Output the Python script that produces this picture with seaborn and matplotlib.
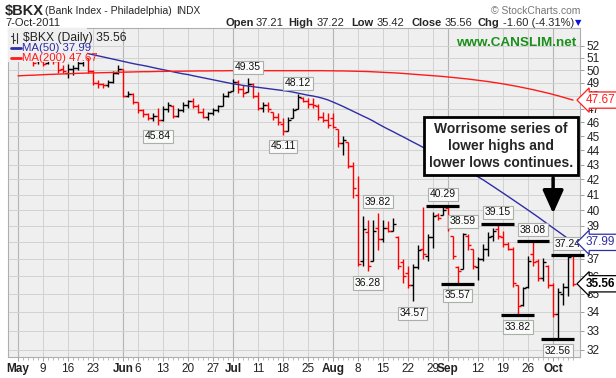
import numpy as np
import pandas as pd
import matplotlib
matplotlib.use('Agg')
import matplotlib.pyplot as plt
import seaborn as sns
from matplotlib.ticker import FixedLocator, NullLocator, FuncFormatter
from matplotlib.patches import Rectangle
from matplotlib.lines import Line2D

sns.set_theme(style='white')
plt.rcParams['font.family'] = ['Liberation Sans', 'DejaVu Sans']

#%% data: $BKX daily bars, 2-May-2011 .. 7-Oct-2011
dates = pd.bdate_range('2011-05-02', '2011-10-07')
dates = dates.drop(pd.to_datetime(['2011-05-30', '2011-07-04', '2011-09-05']))

opens = [52.10, 52.20, 51.70, 51.10, 50.70, 51.20, 50.60, 51.30, 50.70, 50.10,
         49.80, 50.10, 50.20, 50.60, 51.00, 49.90, 49.00, 48.90, 48.80, 49.10,
         49.80, 50.10, 48.00, 48.10, 47.50, 46.90, 46.60, 46.30, 46.50, 46.20,
         47.00, 47.20, 46.50, 46.90, 47.30, 47.60, 47.20, 46.80, 46.40, 46.70,
         46.90, 47.20, 48.00, 48.40, 49.10, 48.50, 48.30, 48.90, 48.00, 47.10,
         47.30, 46.80, 46.40, 45.90, 45.40, 46.30, 47.00, 47.80, 47.60, 47.40,
         47.20, 46.40, 46.20, 46.30, 45.50, 44.50, 44.60, 42.90, 41.00, 36.90,
         38.60, 36.90, 38.90, 38.20, 38.90, 38.70, 38.30, 36.80, 36.20, 35.50,
         36.50, 37.60, 37.20, 38.30, 39.70, 39.70, 40.10, 38.40, 36.50, 36.40,
         38.40, 37.60, 36.50, 37.00, 37.60, 38.40, 38.80, 38.30, 37.90, 37.60,
         35.50, 34.40, 35.40, 37.30, 36.90, 35.90, 36.60, 35.50, 33.90, 35.00,
         35.40, 37.21]
highs = [52.60, 52.40, 51.90, 51.60, 51.50, 51.40, 51.60, 51.50, 50.90, 50.40,
         50.50, 50.40, 50.70, 51.20, 51.00, 50.00, 49.20, 49.00, 49.20, 49.90,
         50.40, 50.10, 48.40, 48.20, 47.55, 47.00, 46.70, 46.70, 47.10, 47.20,
         47.50, 47.30, 47.10, 47.55, 47.70, 47.80, 47.40, 47.10, 46.80, 47.10,
         47.30, 48.20, 48.40, 49.30, 49.20, 48.80, 49.35, 49.00, 48.30, 47.50,
         47.50, 46.80, 46.70, 46.30, 46.40, 47.10, 48.12, 47.90, 47.80, 47.80,
         47.40, 46.80, 46.70, 46.70, 45.50, 45.00, 44.60, 43.20, 42.20, 39.60,
         39.40, 39.40, 39.82, 39.40, 39.30, 39.50, 38.40, 37.00, 36.60, 36.70,
         37.80, 40.20, 38.50, 39.90, 39.80, 40.29, 40.20, 38.40, 36.60, 38.59,
         38.50, 37.60, 37.10, 37.90, 38.60, 38.90, 39.15, 38.70, 38.00, 37.70,
         35.50, 35.40, 37.20, 38.08, 37.00, 37.06, 36.66, 35.60, 35.30, 35.60,
         37.24, 37.22]
lows = [51.80, 51.50, 51.00, 50.35, 50.50, 50.35, 50.50, 50.50, 49.80, 49.80,
        49.40, 49.60, 50.00, 50.30, 49.80, 48.80, 48.60, 48.60, 48.70, 49.00,
        49.70, 47.90, 47.90, 47.40, 46.70, 46.40, 46.20, 46.10, 45.84, 46.10,
        46.80, 46.30, 46.40, 46.80, 47.10, 47.10, 46.70, 46.30, 46.20, 46.55,
        46.80, 47.20, 47.90, 48.40, 48.20, 47.90, 48.30, 47.80, 46.90, 46.80,
        46.80, 46.20, 45.80, 45.11, 45.40, 46.30, 47.00, 47.50, 47.10, 47.10,
        46.20, 46.00, 45.60, 45.60, 44.20, 43.70, 42.80, 40.80, 36.60, 36.60,
        36.28, 36.90, 37.50, 38.00, 38.60, 38.70, 36.40, 35.60, 35.30, 34.57,
        36.40, 37.00, 36.90, 37.65, 39.40, 39.66, 38.70, 37.00, 35.57, 36.40,
        37.50, 36.40, 35.80, 36.90, 37.20, 38.10, 38.20, 37.70, 37.50, 35.40,
        33.82, 34.30, 35.30, 36.60, 35.70, 35.70, 35.35, 33.70, 32.56, 34.40,
        34.90, 35.42]
closes = [52.30, 51.70, 51.20, 50.60, 51.30, 50.50, 51.40, 50.70, 50.00, 49.90,
          50.10, 50.20, 50.60, 51.00, 49.90, 49.00, 48.90, 48.80, 49.10, 49.80,
          50.10, 48.00, 48.10, 47.50, 46.90, 46.60, 46.30, 46.50, 46.20, 47.00,
          47.30, 46.50, 46.90, 47.30, 47.60, 47.20, 46.80, 46.40, 46.70, 46.90,
          47.20, 48.00, 48.30, 49.10, 48.50, 48.20, 48.90, 48.00, 47.10, 47.30,
          47.00, 46.40, 46.00, 45.40, 46.20, 46.90, 47.90, 47.60, 47.40, 47.30,
          46.40, 46.20, 45.80, 45.70, 44.50, 44.70, 42.90, 41.40, 36.70, 38.80,
          36.60, 38.70, 38.20, 38.90, 38.70, 39.10, 36.60, 36.00, 35.50, 36.50,
          37.50, 37.30, 38.30, 39.60, 39.50, 40.00, 38.90, 37.20, 36.30, 38.50,
          37.80, 36.60, 37.00, 37.60, 38.30, 38.70, 38.40, 37.90, 37.60, 35.60,
          34.30, 35.30, 36.90, 36.80, 35.90, 36.80, 35.50, 33.90, 35.10, 35.40,
          37.10, 35.56]

ma50 = [52.45, 52.38, 52.30, 52.22, 52.14, 52.06, 51.98, 51.90, 51.82, 51.74,
        51.66, 51.58, 51.50, 51.42, 51.34, 51.25, 51.16, 51.07, 50.98, 50.89,
        50.80, 50.71, 50.62, 50.53, 50.45, 50.38, 50.30, 50.21, 50.12, 50.04,
        49.96, 49.87, 49.79, 49.71, 49.65, 49.56, 49.48, 49.40, 49.32, 49.24,
        49.16, 49.08, 49.00, 48.92, 48.87, 48.80, 48.75, 48.70, 48.65, 48.60,
        48.55, 48.50, 48.45, 48.40, 48.35, 48.28, 48.20, 48.12, 48.04, 47.98,
        47.90, 47.80, 47.68, 47.52, 47.36, 47.19, 47.01, 46.83, 46.65, 46.47,
        46.30, 46.11, 45.90, 45.70, 45.51, 45.33, 45.14, 44.96, 44.77, 44.58,
        44.40, 44.21, 44.03, 43.84, 43.66, 43.47, 43.29, 43.10, 42.92, 42.73,
        42.55, 42.36, 42.18, 41.98, 41.76, 41.54, 41.32, 41.10, 40.88, 40.66,
        40.44, 40.22, 40.00, 39.78, 39.56, 39.33, 39.10, 38.88, 38.66, 38.44,
        38.22, 37.99]
ma200 = [49.55, 49.57, 49.59, 49.60, 49.62, 49.64, 49.66, 49.67, 49.69, 49.70,
         49.72, 49.73, 49.75, 49.76, 49.77, 49.78, 49.79, 49.80, 49.81, 49.82,
         49.83, 49.84, 49.85, 49.86, 49.87, 49.88, 49.88, 49.89, 49.90, 49.90,
         49.91, 49.91, 49.92, 49.92, 49.93, 49.93, 49.94, 49.94, 49.94, 49.95,
         49.95, 49.95, 49.96, 49.96, 49.96, 49.96, 49.96, 49.96, 49.96, 49.96,
         49.96, 49.96, 49.96, 49.96, 49.96, 49.96, 49.96, 49.96, 49.96, 49.96,
         49.96, 49.96, 49.95, 49.95, 49.94, 49.94, 49.93, 49.92, 49.91, 49.90,
         49.89, 49.87, 49.85, 49.83, 49.81, 49.79, 49.77, 49.74, 49.71, 49.68,
         49.65, 49.62, 49.59, 49.56, 49.53, 49.50, 49.46, 49.42, 49.38, 49.34,
         49.30, 49.25, 49.20, 49.15, 49.10, 49.04, 48.98, 48.92, 48.85, 48.78,
         48.71, 48.63, 48.55, 48.47, 48.38, 48.29, 48.20, 48.10, 48.00, 47.89,
         47.78, 47.67]

# labelled pivots (bar index) and pivots that get a black level line
high_pivots = [46, 56, 72, 85, 89, 96, 103, 110]
low_pivots = [28, 53, 70, 79, 88, 100, 108]
high_lines = [85, 96, 103, 110]
low_lines = [88, 100, 108]

#%% build frames
df = pd.DataFrame({'open': opens, 'high': highs, 'low': lows, 'close': closes},
                  index=dates)
x = np.arange(len(df))
df['x'] = x
prev = df['close'].shift(1).fillna(df['close'])
df['color'] = np.where(df['close'] >= prev, 'black', '#ff0000')

df_ma = pd.DataFrame({'x': x, 'MA(50)': ma50, 'MA(200)': ma200})
df_ma = df_ma.melt(id_vars='x', var_name='series', value_name='value')

BG = '#efefef'
GRID = '#d2d2d2'
BLUE = '#2e2ea6'
RED = '#ff1a1a'

fig = plt.figure(figsize=(6.16, 3.78), dpi=100)
fig.patch.set_facecolor('white')
ax = fig.add_axes([8/616, 1-357/378, 572/616, 329/378])
ax.set_facecolor(BG)
ax.set_yscale('log')

# price bars
ax.vlines(df.x, df.low, df.high, colors=df.color, lw=1.0, zorder=2)
ax.hlines(df.open, df.x - 0.55, df.x, colors=df.color, lw=1.0, zorder=2)
ax.hlines(df.close, df.x, df.x + 0.55, colors=df.color, lw=1.0, zorder=2)

# moving averages
sns.lineplot(data=df_ma, x='x', y='value', hue='series',
             palette={'MA(50)': BLUE, 'MA(200)': RED},
             legend=False, lw=1.0, ax=ax, zorder=3)

#%% axes
ax.set_xlim(-2, 112.4)
ax.set_ylim(31.64, 53.48)
ax.set_xlabel('')
ax.set_ylabel('')

yt = list(range(32, 53))
ax.yaxis.set_major_locator(FixedLocator(yt))
ax.yaxis.set_minor_locator(NullLocator())
ax.yaxis.set_major_formatter(FuncFormatter(lambda v, p: '{:.0f}'.format(v)))
ax.yaxis.tick_right()
ax.tick_params(axis='y', which='major', length=3, width=0.6, color='#909090',
               pad=2, labelsize=8.5, labelcolor='#222222', right=True, left=False)

# x ticks: month starts and mondays
xt, xl, is_month = [], [], []
for i, d in enumerate(dates):
    first = i == 0 or dates[i - 1].month != d.month
    if first:
        xt.append(i); xl.append(d.strftime('%b')); is_month.append(True)
    elif d.weekday() == 0:
        xt.append(i); xl.append(str(d.day)); is_month.append(False)
ax.set_xticks(xt)
ax.set_xticklabels(xl)
ax.set_xticks(x, minor=True)
for lab, m in zip(ax.get_xticklabels(), is_month):
    if m:
        lab.set_fontweight('bold')
        lab.set_fontsize(9)
ax.tick_params(axis='x', which='major', length=3, width=0.6, color='#909090',
               pad=1.5, labelsize=8.5, labelcolor='#222222', bottom=True)
ax.tick_params(axis='x', which='minor', length=2, width=0.5, color='#a0a0a0',
               bottom=True)

ax.grid(axis='y', which='major', color=GRID, lw=0.7, zorder=0)
for t, m in zip(xt, is_month):
    ax.axvline(t, color='#b4b4b4' if m else GRID, lw=0.8 if m else 0.7, zorder=0)
for s in ax.spines.values():
    s.set_color('#a8b0b0')
    s.set_linewidth(0.8)

#%% pivot labels and level lines
box = dict(boxstyle='square,pad=0.15', fc='#fafafa', ec='#a8b0a8', lw=0.8)
for i in high_pivots:
    ax.annotate('{:.2f}'.format(highs[i]), xy=(i, highs[i]), xytext=(0, 8),
                textcoords='offset points', ha='center', va='center',
                fontsize=7.5, color='#111111', bbox=box, zorder=6)
for i in low_pivots:
    ax.annotate('{:.2f}'.format(lows[i]), xy=(i, lows[i]), xytext=(0, -8.5),
                textcoords='offset points', ha='center', va='center',
                fontsize=7.5, color='#111111', bbox=box, zorder=6)
for i in high_lines:
    ax.hlines(highs[i], i - 3.3, i + 3.3, colors='black', lw=2.3, zorder=5,
              clip_on=False)
for i in low_lines:
    ax.hlines(lows[i], i - 3.3, i + 3.3, colors='black', lw=2.3, zorder=5,
              clip_on=False)

# callout
ax.text(0.862, 0.641, 'Worrisome series of\nlower highs and\nlower lows continues.',
        transform=ax.transAxes, ha='center', va='center', fontsize=10,
        fontweight='bold', linespacing=1.25, zorder=8,
        bbox=dict(boxstyle='square,pad=0.35', fc='white', ec='black', lw=2))
ax.annotate('', xy=(0.953, 0.428), xytext=(0.953, 0.553),
            xycoords='axes fraction', textcoords='axes fraction',
            arrowprops=dict(arrowstyle='-|>,head_width=0.45,head_length=1.0',
                            lw=2.5, color='black', mutation_scale=14), zorder=8)

# last value tags on the right
ytr = ax.get_yaxis_transform()
tags = [(ma200[-1], RED, 'normal'), (ma50[-1], BLUE, 'normal'),
        (closes[-1], 'black', 'bold')]
for v, c, w in tags:
    ax.text(1.010, v, '{:.2f}'.format(v), transform=ytr, ha='left', va='center',
            fontsize=8.5, color=c, fontweight=w, zorder=9, clip_on=False,
            bbox=dict(boxstyle='larrow,pad=0.18', fc='white', ec=c, lw=0.9))

#%% legend area
ax.add_patch(Rectangle((0, 0.897), 0.138, 0.103, transform=ax.transAxes,
                       fc=BG, ec='none', zorder=4))
lx = 0.005
ax.add_line(Line2D([lx + 0.004, lx + 0.004], [0.955, 0.985], transform=ax.transAxes,
                   color='#333333', lw=0.8, zorder=7))
ax.add_line(Line2D([lx, lx + 0.004], [0.975, 0.975], transform=ax.transAxes,
                   color='#333333', lw=0.8, zorder=7))
ax.add_line(Line2D([lx + 0.004, lx + 0.008], [0.965, 0.965], transform=ax.transAxes,
                   color='#333333', lw=0.8, zorder=7))
ax.add_line(Line2D([lx + 0.011, lx + 0.011], [0.955, 0.985], transform=ax.transAxes,
                   color='#333333', lw=0.8, zorder=7))
ax.text(0.026, 0.970, r'\$BKX (Daily) 35.56', transform=ax.transAxes,
        ha='left', va='center', fontsize=8.7, color='#222222', zorder=7)
ax.add_line(Line2D([0.006, 0.022], [0.940, 0.940], transform=ax.transAxes,
                   color=BLUE, lw=2, zorder=7))
ax.text(0.024, 0.940, 'MA(50) 37.99', transform=ax.transAxes,
        ha='left', va='center', fontsize=8.2, color=BLUE, zorder=7)
ax.add_line(Line2D([0.006, 0.022], [0.910, 0.910], transform=ax.transAxes,
                   color=RED, lw=2, zorder=7))
ax.text(0.024, 0.910, 'MA(200) 47.67', transform=ax.transAxes,
        ha='left', va='center', fontsize=8.2, color=RED, zorder=7)

ax.text(0.993, 0.955, 'www.CANSLIM.net', transform=ax.transAxes, ha='right',
        va='center', fontsize=9.7, fontweight='bold', color='#1a8f1a', zorder=7)

#%% header
def fy(py):
    return 1 - py / 378.0

fig.text(5/616, fy(11), r'\$BKX', fontsize=10.5, fontweight='bold', va='center')
fig.text(45/616, fy(11), '(Bank Index - Philadelphia)', fontsize=7.6, va='center')
fig.text(176/616, fy(11), 'INDX', fontsize=7.3, va='center')
fig.text(5/616, fy(23), '7-Oct-2011', fontsize=8, va='center')
fig.text(580/616, fy(11), '\u00a9 StockCharts.com', fontsize=7.5, va='center',
         ha='right', color='#777777')

hdr = [(226, 'Open', 'bold'), (256, '37.21', 'normal'),
       (288, 'High', 'bold'), (317, '37.22', 'normal'),
       (351, 'Low', 'bold'), (377, '35.42', 'normal'),
       (411, 'Close', 'bold'), (445, '35.56', 'normal'),
       (478, 'Chg', 'bold'), (503, '-1.60 (-4.31%)', 'normal')]
for px, s, w in hdr:
    fig.text(px/616, fy(23), s, fontsize=8, fontweight=w, va='center')
fig.text(578/616, fy(23), '\u25bc', fontsize=6, va='center', ha='center',
         color='#1010dd', family=['DejaVu Sans'])

fig.savefig('out.png', dpi=100, facecolor='white')
